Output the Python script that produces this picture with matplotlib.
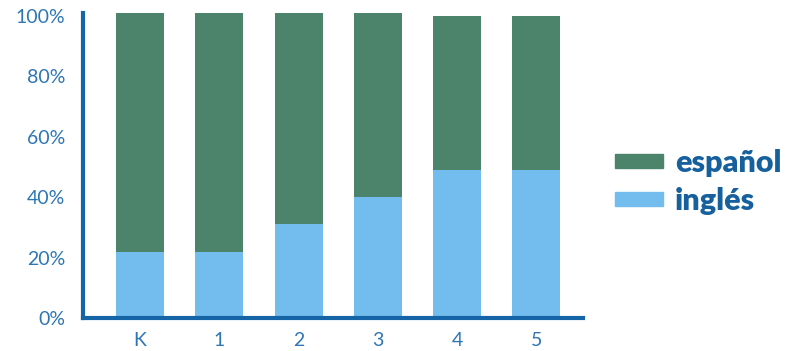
import numpy as np
import matplotlib
matplotlib.use("Agg")
import matplotlib.pyplot as plt
from matplotlib.patches import Patch

# share of each language per grade
grades = ["K", "1", "2", "3", "4", "5"]
ingles = [22, 22, 31, 40, 49, 49]
espanol = [79, 79, 70, 61, 51, 51]
yticks = [0, 20, 40, 60, 80, 100]

green = "#4b846b"
light_blue = "#72bcee"
axis_blue = "#1565a6"
tick_blue = "#2d76b3"
legend_blue = "#17609e"

plt.rcParams['font.family'] = ['Lato', 'DejaVu Sans']

fig = plt.figure(figsize=(7.99, 3.51), dpi=100)
ax = fig.add_axes([0.1039, 0.094, 0.6258, 0.869])

x = np.arange(len(grades))
ax.bar(x, ingles, width=0.605, color=light_blue, label="inglés")
ax.bar(x, espanol, width=0.605, bottom=ingles, color=green, label="español")

ax.set_xlim(-0.72, 5.59)
ax.set_ylim(0, 101)
ax.set_xticks(x)
ax.set_xticklabels(grades)
ax.set_yticks(yticks)
ax.set_yticklabels([f"{v}%" for v in yticks])
ax.tick_params(axis="both", length=0, labelsize=14, colors=tick_blue)
ax.tick_params(axis="y", pad=13)
ax.tick_params(axis="x", pad=10)

for side in ["top", "right"]:
    ax.spines[side].set_visible(False)
for side in ["left", "bottom"]:
    ax.spines[side].set_linewidth(3)
    ax.spines[side].set_color(axis_blue)
    ax.spines[side].set_capstyle("projecting")

handles = [Patch(color=green), Patch(color=light_blue)]
leg = fig.legend(handles, ["español", "inglés"], loc="center left",
                 bbox_to_anchor=(0.77, 0.481), frameon=False,
                 borderpad=0, borderaxespad=0, handlelength=1.55,
                 handleheight=0.34, handletextpad=0.4, labelspacing=0.33,
                 prop={"family": "Lato", "weight": "heavy", "size": 22})
for t in leg.get_texts():
    t.set_color(legend_blue)

fig.savefig("out.png", dpi=100)
